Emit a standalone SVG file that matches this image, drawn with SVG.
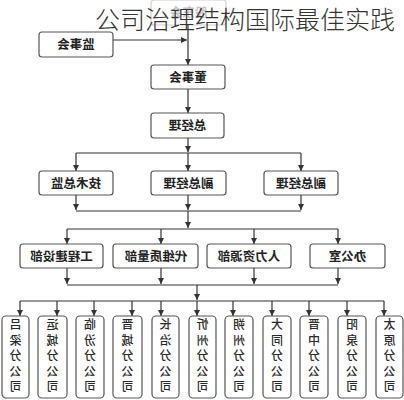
<svg xmlns="http://www.w3.org/2000/svg" width="404" height="400" viewBox="0 0 404 400">
<style>
.box{fill:#fff;stroke:#555;stroke-width:1.2}
.faint{fill:#fff;stroke:#cfcfcf;stroke-width:1.2}
.lbl{font-family:"Noto Sans CJK SC","Noto Sans",sans-serif;font-size:12.5px;font-weight:bold;fill:#222;text-anchor:middle}
.flbl{font-family:"Noto Sans CJK SC","Noto Sans",sans-serif;font-size:12.5px;font-weight:bold;fill:#c4c4c4;text-anchor:middle}
.vt{font-family:"Noto Sans CJK SC","Noto Sans",sans-serif;font-size:12px;font-weight:500;fill:#2a2a2a;text-anchor:middle}
.ln{fill:none;stroke:#333;stroke-width:1.2}
.title{font-family:"Noto Sans CJK SC","Noto Sans",sans-serif;font-size:25px;font-weight:300;fill:#333}
</style>
<defs>
<marker id="ar" markerUnits="userSpaceOnUse" markerWidth="6" markerHeight="6" refX="6" refY="3" orient="auto">
<path d="M0,0 L6,3 L0,6 z" fill="#333"/>
</marker>
</defs>
<rect width="404" height="400" fill="#fff"/>

<g id="n-gudonghui">
<rect class="faint" x="151" y="0" width="75" height="25" rx="3"/>
<text class="flbl" transform="translate(188.5,0) scale(-1,1)" x="0" y="17">股东会</text>
</g>

<g id="connectors">
<path class="ln" d="M188,25 V65" marker-end="url(#ar)"/>
<path class="ln" d="M113,40 H187" marker-end="url(#ar)"/>
<path class="ln" d="M188,89 V113" marker-end="url(#ar)"/>
<path class="ln" d="M188,138 V152" marker-end="url(#ar)"/>
<path class="ln" d="M76,153 H301"/>
<path class="ln" d="M76,153 V171" marker-end="url(#ar)"/>
<path class="ln" d="M188,153 V171" marker-end="url(#ar)"/>
<path class="ln" d="M301,153 V171" marker-end="url(#ar)"/>
<path class="ln" d="M76,195 V210" marker-end="url(#ar)"/>
<path class="ln" d="M188,195 V210" marker-end="url(#ar)"/>
<path class="ln" d="M301,195 V210" marker-end="url(#ar)"/>
<path class="ln" d="M76,211 H301"/>
<path class="ln" d="M188,211 V228" marker-end="url(#ar)"/>
<path class="ln" d="M67,229 H338"/>
<path class="ln" d="M67,229 V244" marker-end="url(#ar)"/>
<path class="ln" d="M161,229 V244" marker-end="url(#ar)"/>
<path class="ln" d="M254,229 V244" marker-end="url(#ar)"/>
<path class="ln" d="M338,229 V244" marker-end="url(#ar)"/>
<path class="ln" d="M67,268 V284" marker-end="url(#ar)"/>
<path class="ln" d="M161,268 V284" marker-end="url(#ar)"/>
<path class="ln" d="M254,268 V284" marker-end="url(#ar)"/>
<path class="ln" d="M338,268 V284" marker-end="url(#ar)"/>
<path class="ln" d="M67,285 H338"/>
<path class="ln" d="M197,285 V300" marker-end="url(#ar)"/>
<path class="ln" d="M20,301 H384"/>
<path class="ln" d="M20,301 V316" marker-end="url(#ar)"/>
<path class="ln" d="M57,301 V316" marker-end="url(#ar)"/>
<path class="ln" d="M94,301 V316" marker-end="url(#ar)"/>
<path class="ln" d="M132,301 V316" marker-end="url(#ar)"/>
<path class="ln" d="M161,301 V316" marker-end="url(#ar)"/>
<path class="ln" d="M197,301 V316" marker-end="url(#ar)"/>
<path class="ln" d="M233,301 V316" marker-end="url(#ar)"/>
<path class="ln" d="M272,301 V316" marker-end="url(#ar)"/>
<path class="ln" d="M309,301 V316" marker-end="url(#ar)"/>
<path class="ln" d="M347,301 V316" marker-end="url(#ar)"/>
<path class="ln" d="M384,301 V316" marker-end="url(#ar)"/>
</g>

<text class="title" x="95" y="29">公司治理结构国际最佳实践</text>

<g id="n-jianshihui">
<rect class="box" x="39" y="32" width="74" height="25" rx="3"/>
<text class="lbl" transform="translate(76,0) scale(-1,1)" x="0" y="49">监事会</text>
</g>
<g id="n-dongshihui">
<rect class="box" x="151" y="65" width="74" height="24" rx="3"/>
<text class="lbl" transform="translate(188,0) scale(-1,1)" x="0" y="81.5">董事会</text>
</g>
<g id="n-zongjingli">
<rect class="box" x="151" y="113" width="73" height="25" rx="3"/>
<text class="lbl" transform="translate(187.5,0) scale(-1,1)" x="0" y="130">总经理</text>
</g>
<g id="n-jishuzongjian">
<rect class="box" x="39" y="171" width="74" height="24" rx="3"/>
<text class="lbl" transform="translate(76,0) scale(-1,1)" x="0" y="187.5">技术总监</text>
</g>
<g id="n-fuzong1">
<rect class="box" x="151" y="171" width="75" height="24" rx="3"/>
<text class="lbl" transform="translate(188.5,0) scale(-1,1)" x="0" y="187.5">副总经理</text>
</g>
<g id="n-fuzong2">
<rect class="box" x="264" y="171" width="74" height="24" rx="3"/>
<text class="lbl" transform="translate(301,0) scale(-1,1)" x="0" y="187.5">副总经理</text>
</g>
<g id="n-gongcheng">
<rect class="box" x="20" y="244" width="83" height="24" rx="3"/>
<text class="lbl" transform="translate(61.5,0) scale(-1,1)" x="0" y="260.5">工程建设部</text>
</g>
<g id="n-daiwei">
<rect class="box" x="113" y="244" width="85" height="24" rx="3"/>
<text class="lbl" transform="translate(156,0) scale(-1,1)" x="0" y="260.5">代维质量部</text>
</g>
<g id="n-renli">
<rect class="box" x="207" y="244" width="84" height="24" rx="3"/>
<text class="lbl" transform="translate(249,0) scale(-1,1)" x="0" y="260.5">人力资源部</text>
</g>
<g id="n-bangongshi">
<rect class="box" x="310" y="244" width="75" height="24" rx="3"/>
<text class="lbl" transform="translate(347.5,0) scale(-1,1)" x="0" y="260.5">办公室</text>
</g>

<g id="n-lvliang">
<rect class="box" x="2" y="316" width="27" height="82" rx="4"/>
<g transform="translate(15.5,0) scale(-1,1)"><text class="vt" x="0" y="329">吕</text><text class="vt" x="0" y="344.5">梁</text><text class="vt" x="0" y="360">分</text><text class="vt" x="0" y="375.5">公</text><text class="vt" x="0" y="391">司</text></g>
</g>
<g id="n-yuncheng">
<rect class="box" x="38" y="316" width="29" height="82" rx="4"/>
<g transform="translate(52.5,0) scale(-1,1)"><text class="vt" x="0" y="329">运</text><text class="vt" x="0" y="344.5">城</text><text class="vt" x="0" y="360">分</text><text class="vt" x="0" y="375.5">公</text><text class="vt" x="0" y="391">司</text></g>
</g>
<g id="n-linfen">
<rect class="box" x="76" y="316" width="28" height="82" rx="4"/>
<g transform="translate(90,0) scale(-1,1)"><text class="vt" x="0" y="329">临</text><text class="vt" x="0" y="344.5">汾</text><text class="vt" x="0" y="360">分</text><text class="vt" x="0" y="375.5">公</text><text class="vt" x="0" y="391">司</text></g>
</g>
<g id="n-jincheng">
<rect class="box" x="113" y="316" width="29" height="82" rx="4"/>
<g transform="translate(127.5,0) scale(-1,1)"><text class="vt" x="0" y="329">晋</text><text class="vt" x="0" y="344.5">城</text><text class="vt" x="0" y="360">分</text><text class="vt" x="0" y="375.5">公</text><text class="vt" x="0" y="391">司</text></g>
</g>
<g id="n-changzhi">
<rect class="box" x="152" y="316" width="27" height="82" rx="4"/>
<g transform="translate(165.5,0) scale(-1,1)"><text class="vt" x="0" y="329">长</text><text class="vt" x="0" y="344.5">治</text><text class="vt" x="0" y="360">分</text><text class="vt" x="0" y="375.5">公</text><text class="vt" x="0" y="391">司</text></g>
</g>
<g id="n-xinzhou">
<rect class="box" x="189" y="316" width="27" height="82" rx="4"/>
<g transform="translate(202.5,0) scale(-1,1)"><text class="vt" x="0" y="329">忻</text><text class="vt" x="0" y="344.5">州</text><text class="vt" x="0" y="360">分</text><text class="vt" x="0" y="375.5">公</text><text class="vt" x="0" y="391">司</text></g>
</g>
<g id="n-shuozhou">
<rect class="box" x="225" y="316" width="28" height="82" rx="4"/>
<g transform="translate(239,0) scale(-1,1)"><text class="vt" x="0" y="329">朔</text><text class="vt" x="0" y="344.5">州</text><text class="vt" x="0" y="360">分</text><text class="vt" x="0" y="375.5">公</text><text class="vt" x="0" y="391">司</text></g>
</g>
<g id="n-datong">
<rect class="box" x="263" y="316" width="28" height="82" rx="4"/>
<g transform="translate(277,0) scale(-1,1)"><text class="vt" x="0" y="329">大</text><text class="vt" x="0" y="344.5">同</text><text class="vt" x="0" y="360">分</text><text class="vt" x="0" y="375.5">公</text><text class="vt" x="0" y="391">司</text></g>
</g>
<g id="n-jinzhong">
<rect class="box" x="300" y="316" width="28" height="82" rx="4"/>
<g transform="translate(314,0) scale(-1,1)"><text class="vt" x="0" y="329">晋</text><text class="vt" x="0" y="344.5">中</text><text class="vt" x="0" y="360">分</text><text class="vt" x="0" y="375.5">公</text><text class="vt" x="0" y="391">司</text></g>
</g>
<g id="n-yangquan">
<rect class="box" x="338" y="316" width="28" height="82" rx="4"/>
<g transform="translate(352,0) scale(-1,1)"><text class="vt" x="0" y="329">阳</text><text class="vt" x="0" y="344.5">泉</text><text class="vt" x="0" y="360">分</text><text class="vt" x="0" y="375.5">公</text><text class="vt" x="0" y="391">司</text></g>
</g>
<g id="n-taiyuan">
<rect class="box" x="376" y="316" width="27" height="82" rx="4"/>
<g transform="translate(389.5,0) scale(-1,1)"><text class="vt" x="0" y="329">太</text><text class="vt" x="0" y="344.5">原</text><text class="vt" x="0" y="360">分</text><text class="vt" x="0" y="375.5">公</text><text class="vt" x="0" y="391">司</text></g>
</g>
</svg>
